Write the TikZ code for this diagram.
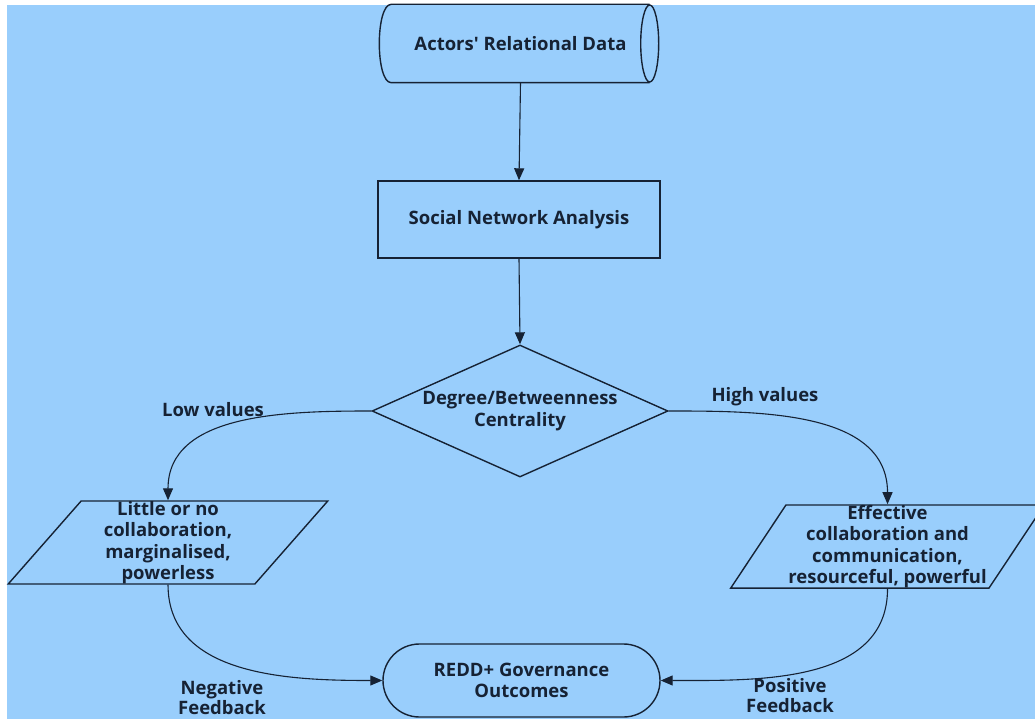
\documentclass[tikz,border=0pt]{standalone}
\usepackage{fontspec}
\newfontfamily\chartfont{Open Sans}
\usetikzlibrary{arrows.meta,shapes.geometric,shapes.misc}
\definecolor{bgblue}{RGB}{153,206,252}
\definecolor{ink}{RGB}{22,34,52}
\tikzset{
  base/.style={draw=ink, line width=1.4pt, text=ink, font=\chartfont\fontsize{18.5}{21.5}\selectfont\bfseries, align=center, inner sep=0pt},
  boxnode/.style={base, rectangle, minimum width=282pt, minimum height=77pt},
  decnode/.style={base, diamond, aspect=2.24, minimum width=296pt, minimum height=132pt},
  ionode/.style={base, trapezium, trapezium stretches=true, trapezium left angle=57, trapezium right angle=123},
  endnode/.style={base, rounded rectangle, minimum width=277pt, minimum height=73pt},
  lbl/.style={text=ink, font=\chartfont\fontsize{18.5}{20}\selectfont\bfseries, align=center, inner sep=0pt},
  flow/.style={draw=ink, line width=1.1pt, -{Triangle[length=12pt,width=10pt]}},
}
\begin{document}
\begin{tikzpicture}[x=1pt,y=-1pt]
  % page and backdrop
  \fill[white] (0,0) rectangle (1035,719);
  \fill[bgblue] (7,5) rectangle (1035,719);
  \useasboundingbox (0,0) rectangle (1035,719);
  \clip (0,0) rectangle (1035,719);

  % data store: body node plus drawn cylinder outline
  \node[base, draw=none, minimum width=257pt, minimum height=77pt] (data) at (520.5,43.5) {Actors' Relational Data};
  \draw[draw=ink, line width=1.4pt]
    (data.north east) -- (data.north west)
    .. controls ([xshift=-16pt]data.north west) and ([xshift=-16pt]data.south west) .. (data.south west)
    -- (data.south east);
  \draw[draw=ink, line width=1.4pt] (data.east) ellipse [x radius=9pt, y radius=38.5pt];

  \node[boxnode] (sna) at (519,219.5) {Social Network Analysis};
  \node[decnode] (dec) at (520,411) {Degree/Betweenness\\Centrality};
  \node[ionode, minimum width=320pt, minimum height=75pt] (low) at (168,542.5)
    {Little or no\\collaboration,\\marginalised,\\powerless};
  \node[ionode, minimum width=315pt, minimum height=77pt] (high) at (887.5,546.5)
    {Effective\\collaboration and\\communication,\\resourceful, powerful};
  \node[endnode] (out) at (521.5,680.5) {REDD+ Governance\\Outcomes};

  % connectors
  \draw[flow] (data.south) -- (sna.north);
  \draw[flow] (sna.south) -- (dec.north);
  \draw[flow] (dec.west) to[out=180,in=90] (low.north);
  \draw[flow] (dec.east) to[out=0,in=90] (high.north);
  \draw[flow] (low.south) to[out=-90,in=180] (out.west);
  \draw[flow] (high.south) to[out=-90,in=0] (out.east);

  % branch labels
  \node[lbl] (lowlbl) at (213,410) {Low values};
  \node[lbl] (highlbl) at (765,397) {High values};
  \node[lbl] (neglbl) at (222,698) {Negative\\Feedback};
  \node[lbl] (poslbl) at (790,696) {Positive\\Feedback};
\end{tikzpicture}
\end{document}
